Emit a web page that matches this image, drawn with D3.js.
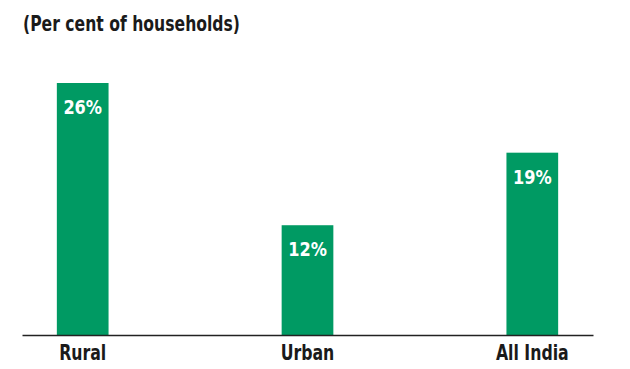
<!DOCTYPE html>
<html><head><meta charset="utf-8">
<script src="https://cdn.jsdelivr.net/npm/d3@7"></script>
<style>body{margin:0;background:#fff}svg{display:block}</style>
</head><body>
<script>
const categories = ["Rural", "Urban", "All India"];
const values = [26.4, 11.5, 19.1];
const title = "(Per cent of households)";

const W = 630, H = 369;
const font = "'DejaVu Sans',sans-serif";
const narrow = "scale(0.75,1)";
const svg = d3.select("body").append("svg").attr("width", W).attr("height", H);

const x = d3.scaleBand().domain(categories).range([22, 593]).paddingInner(0.77).paddingOuter(0.155);
const y = d3.scaleLinear().domain([0, 26.4]).range([335, 83]);

svg.append("g").attr("transform", "translate(23,31)")
  .append("text").attr("transform", "scale(0.745,1)").attr("font-family", font).attr("font-weight", "bold")
  .attr("font-size", 21).attr("fill", "#1a1a1a").text(title);

svg.selectAll("rect.bar").data(categories).enter().append("rect").attr("class", "bar")
  .attr("x", d => x(d)).attr("width", x.bandwidth())
  .attr("y", (d, i) => y(values[i])).attr("height", (d, i) => y(0) - y(values[i]))
  .attr("fill", "#009a63");

svg.selectAll("g.val").data(categories).enter().append("g").attr("class", "val")
  .attr("transform", (d, i) => `translate(${x(d) + x.bandwidth() / 2},${y(values[i]) + 31})`)
  .append("text").attr("transform", "scale(0.85,1)")
  .attr("text-anchor", "middle").attr("font-family", font).attr("font-weight", "bold")
  .attr("font-size", 19).attr("fill", "#fff").text((d, i) => Math.round(values[i]) + "%");

const axis = d3.axisBottom(x).tickSize(0).tickPadding(10);
const g = svg.append("g").attr("transform", "translate(0,335)").call(axis);
g.select(".domain").attr("stroke", "#222").attr("stroke-width", 1.5);
g.selectAll(".tick text").attr("transform", narrow).attr("font-family", font).attr("font-weight", "bold")
  .attr("font-size", 21).attr("fill", "#1a1a1a");
</script>
</body></html>
